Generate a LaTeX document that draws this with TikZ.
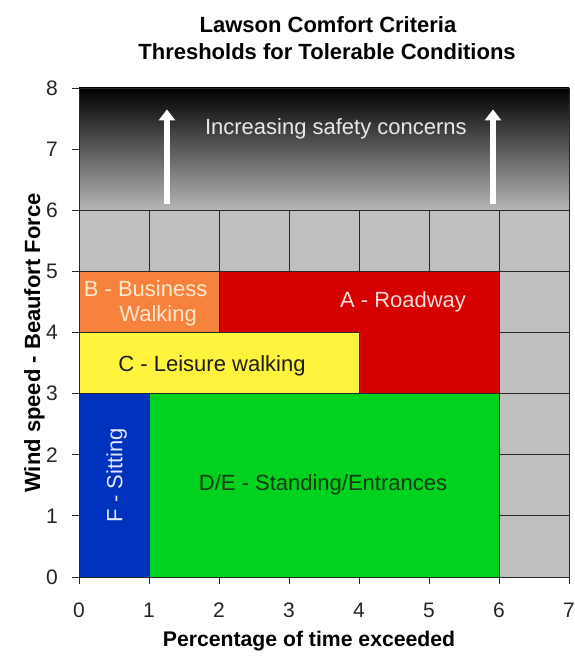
\documentclass[tikz,border=0pt]{standalone}
\usepackage{fontspec}
\setmainfont{Liberation Sans}
\usetikzlibrary{arrows.meta}
\definecolor{cgrey}{RGB}{192,192,192}
\definecolor{gradbot}{RGB}{182,182,182}
\definecolor{gridc}{RGB}{40,40,40}
\definecolor{cred}{RGB}{213,0,0}
\definecolor{corange}{RGB}{246,130,62}
\definecolor{cyellow}{RGB}{255,243,62}
\definecolor{cblue}{RGB}{0,50,190}
\definecolor{cgreen}{RGB}{0,210,30}
\definecolor{tB}{RGB}{255,232,205}
\definecolor{tA}{RGB}{255,218,218}
\definecolor{tF}{RGB}{225,232,255}
\definecolor{tD}{RGB}{20,60,20}
\definecolor{tC}{RGB}{30,30,30}
\definecolor{tI}{RGB}{232,232,232}
\begin{document}
\begin{tikzpicture}[x=70pt,y=61.125pt,
  lbl/.style={font=\fontsize{22}{26}\selectfont, inner sep=0pt},
  ticklbl/.style={font=\fontsize{21}{25}\selectfont, inner sep=0pt, text=black!85},
  ttl/.style={font=\bfseries\fontsize{22}{26}\selectfont, inner sep=0pt},
  zone/.style={draw=gridc, line width=0.9pt},
  uparrow/.style={white, line width=6pt, -{Triangle[width=16pt,length=11pt]}}]
\useasboundingbox (-79pt,-86pt) rectangle (495pt,577pt);
% background regions
\fill[cgrey] (0,0) rectangle (7,6);
\shade[top color=black, bottom color=gradbot] (0,6) rectangle (7,8);
\draw[gridc, line width=0.9pt, step=1] (0,0) grid (7,6);
% zones
\draw[zone, fill=cred] (2,3) rectangle (6,5);
\draw[zone, fill=corange] (0,4) rectangle (2,5);
\draw[zone, fill=cyellow] (0,3) rectangle (4,4);
\draw[zone, fill=cblue] (0,0) rectangle (1,3);
\draw[zone, fill=cgreen] (1,0) rectangle (6,3);
% frame
\draw[gridc, line width=0.9pt] (0,0) rectangle (7,8);
% ticks
\foreach \i in {0,...,7} {
  \draw[gridc, line width=0.9pt] (\i,0) -- ++(0,-7pt);
  \node[ticklbl] (xt\i) at (\i,-0.54) {\i};
}
\foreach \j in {0,...,8} {
  \draw[gridc, line width=0.9pt] (0,\j) -- ++(-7pt,0);
  \node[ticklbl] (yt\j) at (-0.386,\j) {\j};
}
% zone labels
\node[lbl, anchor=base, text=tB] (lB1) at (0.951,4.597) {B - Business};
\node[lbl, anchor=base, text=tB] (lB2) at (1.129,4.172) {Walking};
\node[lbl, anchor=base, text=tA] (lA) at (4.629,4.401) {A - Roadway};
\node[lbl, anchor=base, text=tC] (lC) at (1.9,3.370) {C - Leisure walking};
\node[lbl, anchor=base, text=tD] (lD) at (3.486,1.423) {D/E - Standing/Entrances};
\node[lbl, anchor=base, text=tF, rotate=90] (lF) at (0.621,1.669) {F - Sitting};
% safety arrows
\coordinate (a1s) at (1.257,6.1);
\coordinate (a1e) at (1.257,7.65);
\coordinate (a2s) at (5.914,6.1);
\coordinate (a2e) at (5.914,7.65);
\draw[uparrow] (a1s) -- (a1e);
\draw[uparrow] (a2s) -- (a2e);
\node[lbl, anchor=base, text=tI] (lI) at (3.67,7.231) {Increasing safety concerns};
% titles and axis labels
\node[ttl, anchor=base] (t1) at (3.557,8.90) {Lawson Comfort Criteria};
\node[ttl, anchor=base] (t2) at (3.543,8.458) {Thresholds for Tolerable Conditions};
\node[ttl, anchor=base, font=\bfseries\fontsize{21.2}{25}\selectfont] (xl) at (3.286,-1.145) {Percentage of time exceeded};
\node[ttl, anchor=base, rotate=90] (yl) at (-0.557,3.828) {Wind speed - Beaufort Force};
\end{tikzpicture}
\end{document}
